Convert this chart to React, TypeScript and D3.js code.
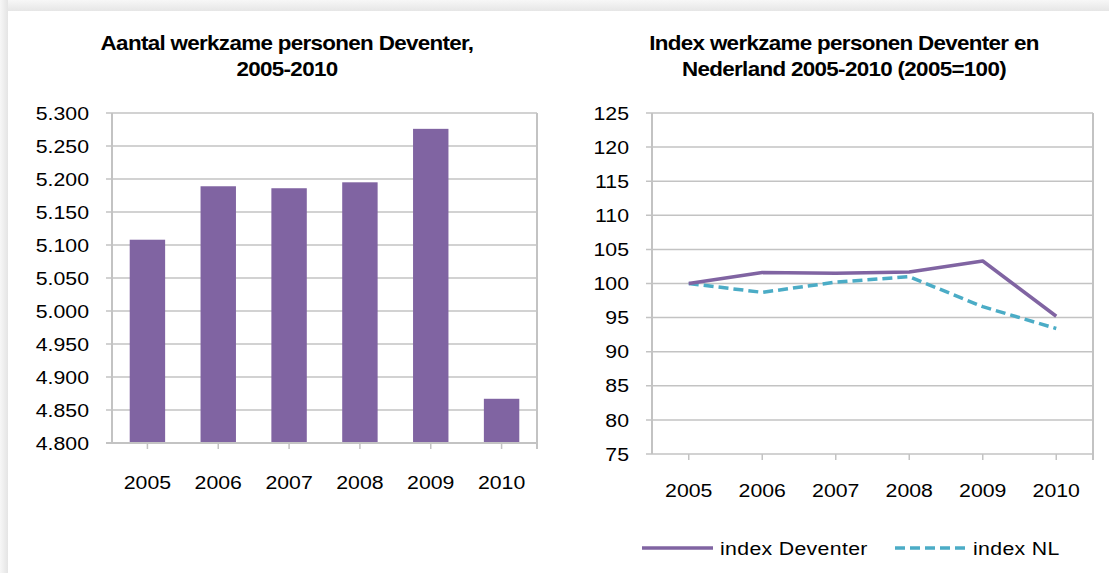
import React from 'react';
import * as d3 from 'd3';

// data
const years = ['2005', '2006', '2007', '2008', '2009', '2010'];
const werkzamePersonen = [5108, 5189, 5186, 5195, 5276, 4867];
const indexDeventer = [100, 101.6, 101.5, 101.7, 103.3, 95.2];
const indexNL = [100, 98.7, 100.2, 101.0, 96.6, 93.4];
const barTicks = d3.range(4800, 5301, 50);
const indexTicks = d3.range(75, 126, 5);

// the picture is a little stretched horizontally, so draw in a narrower space
const SX = 1.12;
const W = 1109 / SX;
const H = 573;
const px = (v: number) => v / SX;

const FONT = '"Liberation Sans", Arial, sans-serif';
const GRID = '#c3c3c3';
const PURPLE = '#8064a2';
const TEAL = '#4bacc6';

const nl = d3.formatLocale({ decimal: ',', thousands: '.', grouping: [3], currency: ['€', ''] });
const fmt = nl.format(',');

interface IProps {}
interface IState {}

class App extends React.Component<IProps, IState> {
  svgRef: SVGSVGElement | null = null;

  componentDidMount() {
    const svg = d3.select(this.svgRef);
    svg.selectAll('*').remove();

    // achtergrond
    const defs = svg.append('defs');
    const gTop = defs.append('linearGradient').attr('id', 'shTop').attr('x1', 0).attr('x2', 0).attr('y1', 0).attr('y2', 1);
    gTop.append('stop').attr('offset', 0).attr('stop-color', '#f7f7f7');
    gTop.append('stop').attr('offset', 1).attr('stop-color', '#e6e6e6');
    const gLeft = defs.append('linearGradient').attr('id', 'shLeft').attr('x1', 0).attr('x2', 1).attr('y1', 0).attr('y2', 0);
    gLeft.append('stop').attr('offset', 0).attr('stop-color', '#f7f7f7');
    gLeft.append('stop').attr('offset', 1).attr('stop-color', '#e4e4e4');
    svg.append('rect').attr('width', W).attr('height', H).attr('fill', '#f3f3f3');
    svg.append('rect').attr('width', W).attr('height', 11).attr('fill', 'url(#shTop)');
    svg.append('rect').attr('width', px(8)).attr('height', H).attr('fill', 'url(#shLeft)');
    svg.append('rect').attr('x', px(8)).attr('y', 11).attr('width', W).attr('height', H).attr('fill', '#fff');

    const frame = (g: any, x0: number, x1: number, y0: number, y1: number, ticks: number[], y: any, fmtY: (v: number) => string, xc: number[], labelY: number) => {
      const tl = px(6);
      ticks.forEach(t => {
        g.append('line')
          .attr('x1', x0 - tl).attr('x2', x1)
          .attr('y1', y(t)).attr('y2', y(t))
          .attr('stroke', GRID).attr('stroke-width', 1.5).attr('vector-effect', 'non-scaling-stroke');
        g.append('text')
          .attr('x', x0 - px(23)).attr('y', y(t)).attr('dy', '0.35em')
          .attr('text-anchor', 'end')
          .attr('font-family', FONT).attr('font-size', 19).attr('fill', '#000')
          .text(fmtY(t));
      });
      // y-as en rechterrand
      g.append('line').attr('x1', x0).attr('x2', x0).attr('y1', y0).attr('y2', y1)
        .attr('stroke', GRID).attr('stroke-width', 2).attr('vector-effect', 'non-scaling-stroke');
      g.append('line').attr('x1', x1).attr('x2', x1).attr('y1', y0).attr('y2', y1 + 6)
        .attr('stroke', GRID).attr('stroke-width', 2).attr('vector-effect', 'non-scaling-stroke');
      // x ticks + labels
      xc.forEach((c, i) => {
        g.append('line').attr('x1', c).attr('x2', c).attr('y1', y1).attr('y2', y1 + 6)
          .attr('stroke', GRID).attr('stroke-width', 1.5).attr('vector-effect', 'non-scaling-stroke');
        g.append('text')
          .attr('x', c).attr('y', labelY)
          .attr('text-anchor', 'middle')
          .attr('font-family', FONT).attr('font-size', 19).attr('fill', '#000')
          .text(years[i]);
      });
    };

    const title = (lines: string[], cx: number, y: number) => {
      lines.forEach((l, i) => {
        svg.append('text')
          .attr('x', cx).attr('y', y + i * 26)
          .attr('text-anchor', 'middle')
          .attr('font-family', FONT).attr('font-size', 20).attr('font-weight', 'bold').attr('fill', '#000')
          .attr('letter-spacing', -0.6)
          .text(l);
      });
    };

    //1. staafdiagram
    const L = { x0: px(112), x1: px(537), y0: 113, y1: 443 };
    const xBar = d3.scaleBand<string>().domain(years).range([L.x0, L.x1]).paddingInner(0.5).paddingOuter(0.25);
    const yBar = d3.scaleLinear().domain([4800, 5300]).range([L.y1, L.y0]);
    const g1 = svg.append('g');
    title(['Aantal werkzame personen Deventer,', '2005-2010'], px(287), 50);
    frame(g1, L.x0, L.x1, L.y0, L.y1, barTicks, yBar, v => fmt(v),
      years.map(d => (xBar(d) as number) + xBar.bandwidth() / 2), 489);
    g1.selectAll('rect.bar')
      .data(werkzamePersonen)
      .enter()
      .append('rect')
      .attr('class', 'bar')
      .attr('x', (d, i) => xBar(years[i]) as number)
      .attr('width', xBar.bandwidth())
      .attr('y', d => yBar(d))
      .attr('height', d => yBar(4800) - yBar(d))
      .attr('fill', PURPLE);
    // as opnieuw over de staven
    g1.append('line').attr('x1', L.x0 - px(6)).attr('x2', L.x1).attr('y1', L.y1).attr('y2', L.y1)
      .attr('stroke', GRID).attr('stroke-width', 2).attr('vector-effect', 'non-scaling-stroke');

    //2. indexlijnen
    const R = { x0: px(652), x1: px(1093), y0: 113, y1: 454 };
    const xIdx = d3.scaleBand<string>().domain(years).range([R.x0, R.x1]);
    const yIdx = d3.scaleLinear().domain([75, 125]).range([R.y1, R.y0]);
    const g2 = svg.append('g');
    title(['Index werkzame personen Deventer en', 'Nederland 2005-2010 (2005=100)'], px(844), 50);
    const cx = (i: number) => (xIdx(years[i]) as number) + xIdx.bandwidth() / 2;
    frame(g2, R.x0, R.x1, R.y0, R.y1, indexTicks, yIdx, v => String(v), years.map((d, i) => cx(i)), 497);
    const line = d3.line<number>().x((d, i) => cx(i)).y(d => yIdx(d));
    g2.append('path').attr('d', line(indexNL)).attr('fill', 'none')
      .attr('stroke', TEAL).attr('stroke-width', 3.5).attr('stroke-dasharray', '10,5')
      .attr('vector-effect', 'non-scaling-stroke');
    g2.append('path').attr('d', line(indexDeventer)).attr('fill', 'none')
      .attr('stroke', PURPLE).attr('stroke-width', 3.5).attr('stroke-linejoin', 'round')
      .attr('vector-effect', 'non-scaling-stroke');

    //3. legenda
    const legend = [
      { name: 'index Deventer', color: PURPLE, dash: null, x: 642 },
      { name: 'index NL', color: TEAL, dash: '10,5', x: 895 },
    ];
    const lg = svg.append('g');
    legend.forEach(l => {
      lg.append('line').attr('x1', px(l.x)).attr('x2', px(l.x + 71)).attr('y1', 548).attr('y2', 548)
        .attr('stroke', l.color).attr('stroke-width', 3.5)
        .attr('stroke-dasharray', l.dash).attr('vector-effect', 'non-scaling-stroke');
      lg.append('text').attr('x', px(l.x + 78)).attr('y', 548).attr('dy', '0.35em')
        .attr('font-family', FONT).attr('font-size', 19).attr('fill', '#000')
        .attr('letter-spacing', 0.3)
        .text(l.name);
    });
  }

  render() {
    return (
      <div style={{ position: 'absolute', left: 0, top: 0, width: 1109, height: 573 }}>
        <svg
          ref={r => { this.svgRef = r; }}
          width={1109}
          height={573}
          viewBox={`0 0 ${W} ${H}`}
          preserveAspectRatio="none"
          style={{ display: 'block' }}
        />
      </div>
    );
  }
}

export default App;
